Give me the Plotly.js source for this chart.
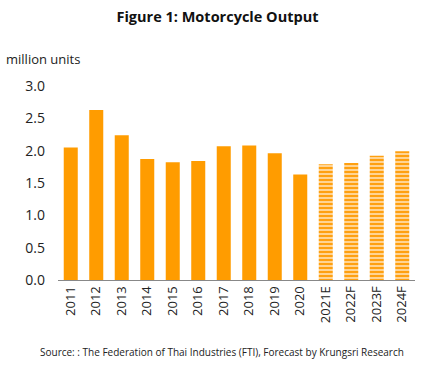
<!DOCTYPE html>
<html>
<head>
<meta charset="utf-8">
<script src="https://cdn.plot.ly/plotly-3.0.1.min.js"></script>
<style>html,body{margin:0;padding:0;background:#fff;}#chart{width:435px;height:365px;}</style>
</head>
<body>
<div id="chart"></div>
<script>
var years = ["2011","2012","2013","2014","2015","2016","2017","2018","2019","2020","2021E","2022F","2023F","2024F"];
var output = [2.05, 2.63, 2.24, 1.87, 1.82, 1.84, 2.07, 2.08, 1.96, 1.63, 1.79, 1.81, 1.92, 1.99];
var yTicks = [0, 0.5, 1.0, 1.5, 2.0, 2.5, 3.0];
var yTickLabels = ["0.0","0.5","1.0","1.5","2.0","2.5","3.0"];

var orange = "#FF9C00";
var isForecast = years.map(function(y){ return /[EF]$/.test(y); });

var actual = {
  type: "bar",
  x: years,
  y: output.map(function(v, i){ return isForecast[i] ? null : v; }),
  marker: {color: orange, line: {width: 0}},
  hoverinfo: "x+y"
};
var forecast = {
  type: "bar",
  x: years,
  y: output.map(function(v, i){ return isForecast[i] ? v : null; }),
  marker: {
    color: "#FFA010",
    line: {width: 0},
    pattern: {
      shape: "-",
      fillmode: "replace",
      fgcolor: "#FFA010",
      bgcolor: "#FFE2B4",
      fgopacity: 1,
      size: 4,
      solidity: 0.6
    }
  },
  hoverinfo: "x+y"
};

var layout = {
  width: 435, height: 365,
  margin: {l: 58, r: 20, t: 86, b: 85},
  paper_bgcolor: "#fff", plot_bgcolor: "#fff",
  font: {family: "Open Sans, sans-serif", color: "#222"},
  barmode: "overlay",
  bargap: 0.45,
  showlegend: false,
  title: {text: "<b>Figure 1: Motorcycle Output</b>", x: 0.5, xanchor: "center", y: 0.955, yanchor: "middle", font: {size: 14.5, color: "#111"}},
  xaxis: {
    type: "category",
    tickangle: -90,
    tickfont: {size: 13, color: "#222"},
    showline: true, linecolor: "#888", linewidth: 1,
    ticks: "", showgrid: false, zeroline: false
  },
  yaxis: {
    range: [0, 3.0],
    tickvals: yTicks, ticktext: yTickLabels,
    tickfont: {size: 14, color: "#222"},
    showgrid: false, zeroline: false, showline: false,
    ticks: "", ticklabelstandoff: 12
  },
  annotations: [
    {text: "million units", xref: "paper", yref: "paper", x: -0.15, y: 1.14, xanchor: "left", yanchor: "middle", showarrow: false, font: {size: 13, color: "#222"}},
    {text: "Source: : The Federation of Thai Industries (FTI), Forecast by Krungsri Research", xref: "paper", yref: "paper", x: 0.46, xanchor: "center", y: -0.37, yanchor: "middle", showarrow: false, font: {size: 10, color: "#222"}}
  ]
};

Plotly.newPlot("chart", [actual, forecast], layout, {displayModeBar: false, staticPlot: true});
</script>
</body>
</html>
